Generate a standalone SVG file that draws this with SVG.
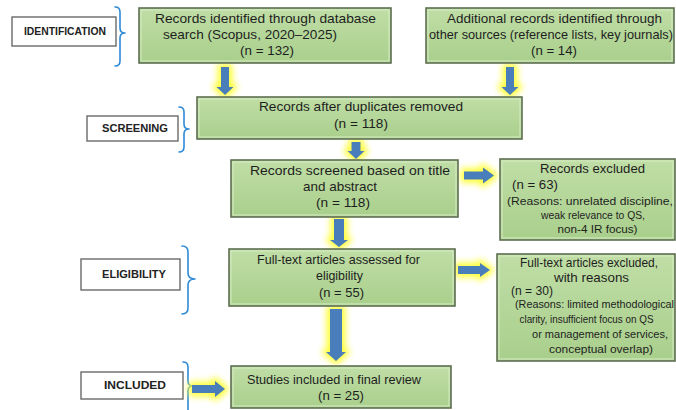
<svg xmlns="http://www.w3.org/2000/svg" width="676" height="410" viewBox="0 0 676 410">
<defs>
  <linearGradient id="gfill" x1="0" y1="0" x2="0" y2="1">
    <stop offset="0" stop-color="#c0dea6"/>
    <stop offset="1" stop-color="#a9cf8c"/>
  </linearGradient>
  <filter id="glow" x="-60%" y="-60%" width="220%" height="220%">
    <feGaussianBlur stdDeviation="3"/>
  </filter>
  <style>
    .box{fill:url(#gfill);stroke:#5e6f52;stroke-width:1.6}
    .inner{fill:none;stroke:#d6ecc4;stroke-width:1}
    .lbl{fill:#fff;stroke:#6a6a6a;stroke-width:1.4}
    .brace{fill:none;stroke:#2f8ad6;stroke-width:1.6;stroke-linecap:round;stroke-linejoin:round}
    .t{font-family:"Liberation Sans",Arial,sans-serif;font-size:13px;fill:#1e1e1e;text-anchor:middle}
    .s{font-family:"Liberation Sans",Arial,sans-serif;font-size:11px;fill:#1e1e1e;text-anchor:middle}
    .sl{text-anchor:start}
    .b{font-family:"Liberation Sans",Arial,sans-serif;font-size:10px;font-weight:bold;fill:#222;text-anchor:middle}
    .arr{fill:#4a7ebb}
    .gl{fill:#ffff33;stroke:#ffff33;stroke-width:7;stroke-linejoin:round;filter:url(#glow);opacity:0.95}
  </style>
</defs>

<g id="stage-identification">
  <rect class="lbl" x="12" y="17" width="104" height="29"/>
  <text class="b" x="65" y="35" textLength="82" lengthAdjust="spacingAndGlyphs">IDENTIFICATION</text>
  <path class="brace" d="M115,7 Q120,7 120,12 L120,28 Q120,33 125,33 Q120,33 120,38 L120,61 Q120,66 115,66"/>
</g>
<g id="stage-screening">
  <rect class="lbl" x="87" y="116" width="91" height="25"/>
  <text class="b" x="135" y="132" textLength="66" lengthAdjust="spacingAndGlyphs">SCREENING</text>
  <path class="brace" d="M179,107 Q184,107 184,112 L184,124 Q184,129 189,129 Q184,129 184,134 L184,147 Q184,152 179,152"/>
</g>
<g id="stage-eligibility">
  <rect class="lbl" x="81" y="259" width="99" height="31"/>
  <text class="b" x="134" y="278" textLength="64" lengthAdjust="spacingAndGlyphs">ELIGIBILITY</text>
  <path class="brace" d="M182,246 Q188,246 188,252 L188,273 Q188,279 195,279 Q188,279 188,285 L188,308 Q188,314 182,314"/>
</g>
<g id="stage-included">
  <rect class="lbl" x="81" y="372" width="102" height="27"/>
  <text class="b" x="135" y="389" textLength="62" lengthAdjust="spacingAndGlyphs">INCLUDED</text>
  <path class="brace" d="M183,362 Q188,362 188,367 L188,381 Q188,386 193,386 Q188,386 188,391 L188,412"/>
</g>

<g id="connectors">
  <polygon class="gl" points="221,67 229,67 229,87 233.5,87 225,95 216.5,87 221,87"/>
  <polygon class="gl" points="506,67 514,67 514,87 518.5,87 510,95 501.5,87 506,87"/>
  <polygon class="gl" points="351.5,142 360.5,142 360.5,151 364.5,151 356,159 347.5,151 351.5,151"/>
  <polygon class="gl" points="464,171.5 483,171.5 483,167.5 494,175.5 483,183.5 483,179.5 464,179.5"/>
  <polygon class="gl" points="334,219 344,219 344,240 348,240 339,247 330,240 334,240"/>
  <polygon class="gl" points="458,266 480,266 480,263 490,270 480,277 480,274 458,274"/>
  <polygon class="gl" points="330,309 342,309 342,352 346,352 336,361 326,352 330,352"/>
  <polygon class="gl" points="192,385 215,385 215,381 225,389 215,397 215,393 192,393"/>
  <polygon class="arr" points="221,67 229,67 229,87 233.5,87 225,95 216.5,87 221,87"/>
  <polygon class="arr" points="506,67 514,67 514,87 518.5,87 510,95 501.5,87 506,87"/>
  <polygon class="arr" points="351.5,142 360.5,142 360.5,151 364.5,151 356,159 347.5,151 351.5,151"/>
  <polygon class="arr" points="464,171.5 483,171.5 483,167.5 494,175.5 483,183.5 483,179.5 464,179.5"/>
  <polygon class="arr" points="334,219 344,219 344,240 348,240 339,247 330,240 334,240"/>
  <polygon class="arr" points="458,266 480,266 480,263 490,270 480,277 480,274 458,274"/>
  <polygon class="arr" points="330,309 342,309 342,352 346,352 336,361 326,352 330,352"/>
  <polygon class="arr" points="192,385 215,385 215,381 225,389 215,397 215,393 192,393"/>
</g>

<g id="n-database">
  <rect class="box" x="139" y="8" width="252" height="55"/>
  <rect class="inner" x="141" y="10" width="248" height="51"/>
  <text class="t" x="265.5" y="23" textLength="221" lengthAdjust="spacingAndGlyphs">Records identified through database</text>
  <text class="t" x="250" y="39" textLength="174" lengthAdjust="spacingAndGlyphs">search (Scopus, 2020–2025)</text>
  <text class="t" x="267" y="55" textLength="54" lengthAdjust="spacingAndGlyphs">(n = 132)</text>
</g>
<g id="n-other">
  <rect class="box" x="426" y="8" width="248" height="55"/>
  <rect class="inner" x="428" y="10" width="244" height="51"/>
  <text class="t" x="554.5" y="23" textLength="215" lengthAdjust="spacingAndGlyphs">Additional records identified through</text>
  <text class="t" x="551" y="39" textLength="244" lengthAdjust="spacingAndGlyphs">other sources (reference lists, key journals)</text>
  <text class="t" x="554" y="55" textLength="46" lengthAdjust="spacingAndGlyphs">(n = 14)</text>
</g>
<g id="n-dedup">
  <rect class="box" x="197" y="97" width="325" height="42"/>
  <rect class="inner" x="199" y="99" width="321" height="38"/>
  <text class="t" x="361" y="111" textLength="204" lengthAdjust="spacingAndGlyphs">Records after duplicates removed</text>
  <text class="t" x="361" y="128" textLength="54" lengthAdjust="spacingAndGlyphs">(n = 118)</text>
</g>
<g id="n-screened">
  <rect class="box" x="231" y="160" width="227" height="57"/>
  <rect class="inner" x="233" y="162" width="223" height="53"/>
  <text class="t" x="350" y="175" textLength="200" lengthAdjust="spacingAndGlyphs">Records screened based on title</text>
  <text class="t" x="340" y="191" textLength="74" lengthAdjust="spacingAndGlyphs">and abstract</text>
  <text class="t" x="343" y="207" textLength="54" lengthAdjust="spacingAndGlyphs">(n = 118)</text>
</g>
<g id="n-excluded1">
  <rect class="box" x="500" y="159" width="175" height="81"/>
  <rect class="inner" x="502" y="161" width="171" height="77"/>
  <text class="t" x="592.5" y="173" textLength="105" lengthAdjust="spacingAndGlyphs">Records excluded</text>
  <text class="t sl" x="512" y="189" textLength="46" lengthAdjust="spacingAndGlyphs">(n = 63)</text>
  <text class="s" x="590" y="205" textLength="166" lengthAdjust="spacingAndGlyphs">(Reasons: unrelated discipline,</text>
  <text class="s" x="593" y="219" textLength="104" lengthAdjust="spacingAndGlyphs">weak relevance to QS,</text>
  <text class="s" x="597.5" y="233" textLength="80" lengthAdjust="spacingAndGlyphs">non-4 IR focus)</text>
</g>
<g id="n-eligibility">
  <rect class="box" x="229" y="249" width="226" height="57"/>
  <rect class="inner" x="231" y="251" width="222" height="53"/>
  <text class="t" x="338.5" y="264" textLength="163" lengthAdjust="spacingAndGlyphs">Full-text articles assessed for</text>
  <text class="t" x="339.5" y="280" textLength="47" lengthAdjust="spacingAndGlyphs">eligibility</text>
  <text class="t" x="341.5" y="297" textLength="45" lengthAdjust="spacingAndGlyphs">(n = 55)</text>
</g>
<g id="n-excluded2">
  <rect class="box" x="497" y="254" width="178" height="107"/>
  <rect class="inner" x="499" y="256" width="174" height="103"/>
  <text class="t" x="589" y="267" textLength="138" lengthAdjust="spacingAndGlyphs">Full-text articles excluded,</text>
  <text class="t" x="591.5" y="282" textLength="75" lengthAdjust="spacingAndGlyphs">with reasons</text>
  <text class="t sl" x="511" y="295" textLength="42" lengthAdjust="spacingAndGlyphs">(n = 30)</text>
  <text class="s" x="594.5" y="308" textLength="159" lengthAdjust="spacingAndGlyphs">(Reasons: limited methodological</text>
  <text class="s" x="586.5" y="323" textLength="134" lengthAdjust="spacingAndGlyphs">clarity, insufficient focus on QS</text>
  <text class="s" x="600" y="338" textLength="136" lengthAdjust="spacingAndGlyphs">or management of services,</text>
  <text class="s" x="601" y="353" textLength="104" lengthAdjust="spacingAndGlyphs">conceptual overlap)</text>
</g>
<g id="n-included">
  <rect class="box" x="231" y="366" width="220" height="42"/>
  <rect class="inner" x="233" y="368" width="216" height="38"/>
  <text class="t" x="334" y="384" textLength="174" lengthAdjust="spacingAndGlyphs">Studies included in final review</text>
  <text class="t" x="341" y="400" textLength="46" lengthAdjust="spacingAndGlyphs">(n = 25)</text>
</g>
</svg>
